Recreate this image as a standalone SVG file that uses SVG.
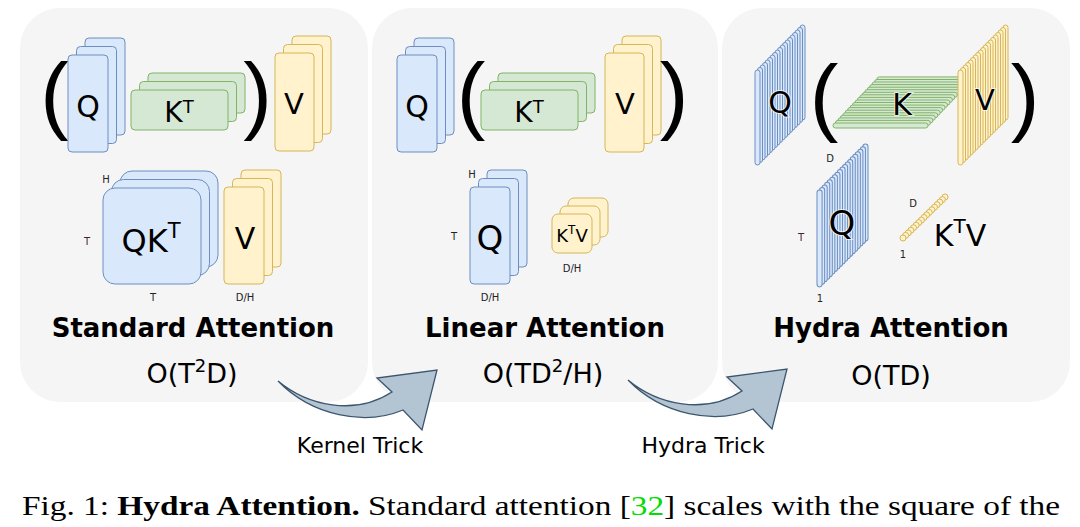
<svg xmlns="http://www.w3.org/2000/svg" xmlns:xlink="http://www.w3.org/1999/xlink" width="1080" height="527" viewBox="0 0 1080 527">
<style>
.panel{fill:#f5f5f5;}
.qb{fill:#dae8fc;stroke:#6c8ebf;stroke-width:1;}
.kg{fill:#d5e8d4;stroke:#82b366;stroke-width:1;}
.vy{fill:#fff2cc;stroke:#d6b656;stroke-width:1;}
.t{font-family:"DejaVu Sans",Verdana,sans-serif;fill:#000;}
.big{font-size:30px;text-anchor:middle;}
.par{font-family:"Liberation Sans",Arial,sans-serif;font-size:86px;text-anchor:middle;fill:#000;}
.title{font-family:"DejaVu Sans",sans-serif;font-size:26px;font-weight:bold;text-anchor:middle;fill:#000;}
.cx{font-family:"DejaVu Sans",sans-serif;font-size:27px;text-anchor:middle;fill:#000;}
.lbl{font-family:"DejaVu Sans",sans-serif;font-size:10px;text-anchor:middle;fill:#222;}
.mar{fill:#4a1f33;}
.halo{stroke:#ffffff;stroke-width:2;stroke-opacity:0.7;paint-order:stroke;}
.arrow{fill:#b3c5d3;stroke:#3d566e;stroke-width:1.3;stroke-linejoin:miter;}
.trick{font-family:"DejaVu Sans",sans-serif;font-size:22px;text-anchor:middle;fill:#000;}
</style>
<defs>
<rect id="vbar" width="5" height="95" rx="2.5"/>
<rect id="hbar" width="95" height="5" rx="2.5"/>
<circle id="dot" r="3"/>
<g id="plane">
<use href="#vbar" x="45" y="-45"/><use href="#vbar" x="42.5" y="-42.5"/><use href="#vbar" x="40" y="-40"/><use href="#vbar" x="37.5" y="-37.5"/><use href="#vbar" x="35" y="-35"/><use href="#vbar" x="32.5" y="-32.5"/><use href="#vbar" x="30" y="-30"/><use href="#vbar" x="27.5" y="-27.5"/><use href="#vbar" x="25" y="-25"/><use href="#vbar" x="22.5" y="-22.5"/><use href="#vbar" x="20" y="-20"/><use href="#vbar" x="17.5" y="-17.5"/><use href="#vbar" x="15" y="-15"/><use href="#vbar" x="12.5" y="-12.5"/><use href="#vbar" x="10" y="-10"/><use href="#vbar" x="7.5" y="-7.5"/><use href="#vbar" x="5" y="-5"/><use href="#vbar" x="2.5" y="-2.5"/><use href="#vbar" x="0" y="0"/>
</g>
<g id="kplane">
<use href="#hbar" x="43.9" y="-46.1"/><use href="#hbar" x="41.5" y="-43.5"/><use href="#hbar" x="39" y="-41"/><use href="#hbar" x="36.6" y="-38.4"/><use href="#hbar" x="34.2" y="-35.8"/><use href="#hbar" x="31.7" y="-33.3"/><use href="#hbar" x="29.3" y="-30.7"/><use href="#hbar" x="26.8" y="-28.2"/><use href="#hbar" x="24.4" y="-25.6"/><use href="#hbar" x="22" y="-23"/><use href="#hbar" x="19.5" y="-20.5"/><use href="#hbar" x="17.1" y="-17.9"/><use href="#hbar" x="14.6" y="-15.4"/><use href="#hbar" x="12.2" y="-12.8"/><use href="#hbar" x="9.8" y="-10.2"/><use href="#hbar" x="7.3" y="-7.7"/><use href="#hbar" x="4.9" y="-5.1"/><use href="#hbar" x="2.4" y="-2.6"/><use href="#hbar" x="0" y="0"/>
</g>
<g id="dots">
<use href="#dot" x="42" y="-41"/><use href="#dot" x="39.4" y="-38.4"/><use href="#dot" x="36.75" y="-35.9"/><use href="#dot" x="34.1" y="-33.3"/><use href="#dot" x="31.5" y="-30.75"/><use href="#dot" x="28.9" y="-28.2"/><use href="#dot" x="26.25" y="-25.6"/><use href="#dot" x="23.6" y="-23.1"/><use href="#dot" x="21" y="-20.5"/><use href="#dot" x="18.4" y="-17.9"/><use href="#dot" x="15.75" y="-15.4"/><use href="#dot" x="13.1" y="-12.8"/><use href="#dot" x="10.5" y="-10.25"/><use href="#dot" x="7.9" y="-7.7"/><use href="#dot" x="5.25" y="-5.1"/><use href="#dot" x="2.6" y="-2.6"/><use href="#dot" x="0" y="0"/>
</g>
</defs>

<!-- Panels -->
<g id="panel-standard">
<rect class="panel" x="20" y="8" width="348" height="394" rx="40"/>
<text class="par" x="54.5" y="123">(</text>
<g id="std-Q"><rect class="qb" x="85" y="38" width="40" height="97" rx="4"/><rect class="qb" x="76.5" y="46.5" width="40" height="97" rx="4"/><rect class="qb" x="68" y="55" width="40" height="97" rx="4"/><text class="t big" x="88" y="117">Q</text></g>
<g id="std-KT"><rect class="kg" x="148" y="73" width="97" height="40" rx="4"/><rect class="kg" x="139.5" y="81.5" width="97" height="40" rx="4"/><rect class="kg" x="131" y="90" width="97" height="40" rx="4"/><text class="t" x="179" y="122" font-size="28" text-anchor="middle">K<tspan font-size="18" dy="-9">T</tspan></text></g>
<text class="par" x="257.5" y="123">)</text>
<g id="std-V"><rect class="vy" x="292" y="36" width="39" height="98" rx="4"/><rect class="vy" x="283.5" y="44.5" width="39" height="98" rx="4"/><rect class="vy" x="275" y="53" width="39" height="98" rx="4"/><text class="t" x="294" y="114" font-size="29" text-anchor="middle">V</text></g>
<g id="std-QKT"><rect class="qb" x="120" y="171" width="98" height="96" rx="12"/><rect class="qb" x="111.5" y="179.5" width="98" height="96" rx="12"/><rect class="qb" x="103" y="188" width="98" height="96" rx="12"/><text class="t" x="151" y="252" font-size="32" text-anchor="middle">QK<tspan font-size="21" dy="-14">T</tspan></text>
<text class="lbl" x="106" y="183" font-size="9">H</text><text class="lbl mar" x="87" y="245" font-size="11">T</text><text class="lbl" x="153" y="301" font-size="11">T</text></g>
<g id="std-V2"><rect class="vy" x="241" y="170" width="40" height="97" rx="4"/><rect class="vy" x="232.5" y="178.5" width="40" height="97" rx="4"/><rect class="vy" x="224" y="187" width="40" height="97" rx="4"/><text class="t" x="245" y="249" font-size="30" text-anchor="middle">V</text><text class="lbl" x="245" y="301" font-size="11">D/H</text></g>
<text class="title" x="193" y="337">Standard Attention</text>
<text class="cx" x="192" y="383">O(T<tspan font-size="18" dy="-11">2</tspan><tspan dy="11">D)</tspan></text>
</g>

<g id="panel-linear">
<rect class="panel" x="372" y="8" width="346" height="394" rx="40"/>
<g id="lin-Q"><rect class="qb" x="414" y="38" width="40" height="97" rx="4"/><rect class="qb" x="405.5" y="46.5" width="40" height="97" rx="4"/><rect class="qb" x="397" y="55" width="40" height="97" rx="4"/><text class="t big" x="417" y="117">Q</text></g>
<text class="par" x="471" y="123">(</text>
<g id="lin-KT"><rect class="kg" x="498" y="73" width="97" height="40" rx="4"/><rect class="kg" x="489.5" y="81.5" width="97" height="40" rx="4"/><rect class="kg" x="481" y="90" width="97" height="40" rx="4"/><text class="t" x="529" y="122" font-size="28" text-anchor="middle">K<tspan font-size="18" dy="-9">T</tspan></text></g>
<g id="lin-V"><rect class="vy" x="622" y="36" width="39" height="99" rx="4"/><rect class="vy" x="613.5" y="44.5" width="39" height="99" rx="4"/><rect class="vy" x="605" y="53" width="39" height="99" rx="4"/><text class="t" x="625" y="114" font-size="29" text-anchor="middle">V</text></g>
<text class="par" x="674" y="123">)</text>
<g id="lin-Q2"><rect class="qb" x="487" y="170" width="40" height="97" rx="4"/><rect class="qb" x="478.5" y="178.5" width="40" height="97" rx="4"/><rect class="qb" x="470" y="187" width="40" height="97" rx="4"/><text class="t" x="490" y="250" font-size="34" text-anchor="middle">Q</text>
<text class="lbl" x="472" y="178" font-size="9">H</text><text class="lbl" x="454" y="240" font-size="11">T</text><text class="lbl" x="490" y="301" font-size="11">D/H</text></g>
<g id="lin-KTV"><rect class="vy" x="568" y="198" width="40" height="39" rx="6"/><rect class="vy" x="560" y="206" width="40" height="39" rx="6"/><rect class="vy" x="552" y="214" width="40" height="39" rx="6"/><text class="t" x="572" y="242" font-size="18" text-anchor="middle">K<tspan font-size="12" dy="-8">T</tspan><tspan dy="8">V</tspan></text><text class="lbl" x="572" y="272" font-size="11">D/H</text></g>
<text class="title" x="545" y="337">Linear Attention</text>
<text class="cx" x="543" y="383">O(TD<tspan font-size="18" dy="-11">2</tspan><tspan dy="11">/H)</tspan></text>
</g>

<g id="panel-hydra">
<rect class="panel" x="722" y="8" width="348" height="394" rx="40"/>
<g id="hyd-Q"><use href="#plane" class="qb" x="755" y="70"/><text class="t big halo" x="780" y="113">Q</text></g>
<text class="par" x="824" y="125">(</text>
<g id="hyd-K"><use href="#kplane" class="kg" x="833" y="123"/><text class="t big halo" x="902" y="115">K</text></g>
<g id="hyd-V"><use href="#plane" class="vy" x="958" y="70"/><text class="t halo" x="985" y="110" font-size="29" text-anchor="middle">V</text></g>
<text class="par" x="1025" y="125">)</text>
<g id="hyd-Q2"><use href="#plane" class="qb" x="817" y="190" transform="translate(817 190) scale(1.02) translate(-817 -190)"/><text class="t halo" x="842" y="235" font-size="34" text-anchor="middle">Q</text>
<text class="lbl" x="830" y="162" font-size="10">D</text><text class="lbl mar" x="801" y="241" font-size="11">T</text><text class="lbl" x="820" y="302" font-size="11">1</text></g>
<g id="hyd-KTV"><use href="#dots" class="vy" x="903" y="238"/><text class="lbl" x="913" y="207" font-size="10">D</text><text class="lbl" x="903" y="258" font-size="11">1</text><text class="t halo" x="960" y="246" font-size="30" text-anchor="middle">K<tspan font-size="20" dy="-13">T</tspan><tspan dy="13">V</tspan></text></g>
<text class="title" x="891" y="337">Hydra Attention</text>
<text class="cx" x="891" y="385">O(TD)</text>
</g>

<g id="connectors">
<path class="arrow" d="M278,381 C308,406 355,416 392,392 L377,378 L437,370 L422,430 L403,410 C365,426 312,416 278,381 Z"/>
<path class="arrow" transform="translate(350,-1)" d="M278,381 C308,406 355,416 392,392 L377,378 L437,370 L422,430 L403,410 C365,426 312,416 278,381 Z"/>
<text class="trick" x="360" y="453">Kernel Trick</text>
<text class="trick" x="703" y="453">Hydra Trick</text>
</g>

<text x="22" y="515" font-family="Liberation Serif,serif" font-size="28" textLength="1038" lengthAdjust="spacingAndGlyphs" fill="#000">Fig. 1: <tspan font-weight="bold">Hydra Attention.</tspan> Standard attention [<tspan fill="#00dd00">32</tspan>] scales with the square of the</text>
</svg>
